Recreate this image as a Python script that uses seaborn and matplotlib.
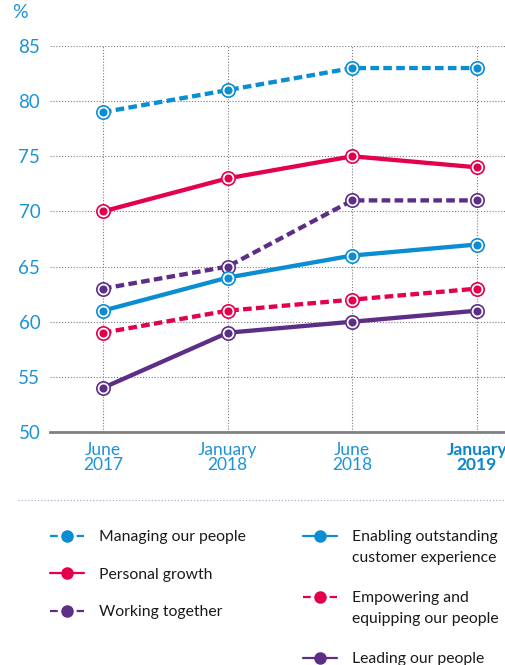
import numpy as np
import pandas as pd
import matplotlib
matplotlib.use("Agg")
import matplotlib.pyplot as plt
import seaborn as sns
from matplotlib.lines import Line2D

# ---------------- data ----------------
periods = ["June\n2017", "January\n2018", "June\n2018", "January\n2019"]
series_names = [
    "Managing our people",
    "Personal growth",
    "Working together",
    "Enabling outstanding customer experience",
    "Empowering and equipping our people",
    "Leading our people",
]
managing = [79, 81, 83, 83]
personal = [70, 73, 75, 74]
working = [63, 65, 71, 71]
enabling = [61, 64, 66, 67]
empowering = [59, 61, 62, 63]
leading = [54, 59, 60, 61]
y_ticks = [50, 55, 60, 65, 70, 75, 80, 85]

BLUE = "#0a8dd3"
RED = "#e3004f"
PURPLE = "#5c2e86"
LABEL_BLUE = "#1c93d6"

colors = {
    series_names[0]: BLUE,
    series_names[1]: RED,
    series_names[2]: PURPLE,
    series_names[3]: BLUE,
    series_names[4]: RED,
    series_names[5]: PURPLE,
}
is_dashed = {
    series_names[0]: True,
    series_names[1]: False,
    series_names[2]: True,
    series_names[3]: False,
    series_names[4]: True,
    series_names[5]: False,
}
values = [managing, personal, working, enabling, empowering, leading]

rows = []
for name, vals in zip(series_names, values):
    for i, v in enumerate(vals):
        rows.append({"series": name, "x": i, "value": v})
df = pd.DataFrame(rows)

# ---------------- style ----------------
sns.set_theme(style="white")
plt.rcParams["font.family"] = ["Lato", "DejaVu Sans"]

W, H = 506, 665
fig = plt.figure(figsize=(W / 100, H / 100), dpi=100)
ax = fig.add_axes([50 / W, 1 - 432 / H, 455 / W, 386 / H])

dash_spec = {n: ((2.0, 1.0) if is_dashed[n] else "") for n in series_names}
sns.lineplot(
    data=df, x="x", y="value", hue="series", style="series",
    hue_order=series_names, style_order=series_names,
    palette=colors, dashes=dash_spec, markers=False,
    linewidth=3.1, legend=False, ax=ax, sort=False, zorder=3,
)
for c_line in ax.lines:
    c_line.set_linewidth(3.1)
    c_line.set_solid_capstyle("butt")
    c_line.set_dash_capstyle("butt")

for name in series_names:
    sub = df[df["series"] == name]
    sns.scatterplot(x=sub["x"], y=sub["value"], s=92, color="white",
                    edgecolor=colors[name], linewidth=1.2, ax=ax, zorder=4,
                    legend=False)
    sns.scatterplot(x=sub["x"], y=sub["value"], s=34, color=colors[name],
                    linewidth=0, ax=ax, zorder=5, legend=False)

ax.set_xlim(-0.425, 3.225)
ax.set_ylim(50, 85)
ax.set_yticks(y_ticks)
ax.set_xticks(range(len(periods)))
ax.set_xticklabels(periods, linespacing=0.92)
ax.set_xlabel("")
ax.set_ylabel("")

ax.grid(True, color="#7a7a7a", linestyle=(0, (1, 1.6)), linewidth=0.8)
ax.set_axisbelow(True)
for s in ["top", "left", "right"]:
    ax.spines[s].set_visible(False)
ax.spines["bottom"].set_color("#808080")
ax.spines["bottom"].set_linewidth(2)
ax.spines["bottom"].set_zorder(6)

ax.tick_params(axis="y", length=0, pad=7, labelsize=13.5, labelcolor=LABEL_BLUE)
ax.tick_params(axis="x", length=0, pad=7, labelsize=12.5, labelcolor=LABEL_BLUE)
last = ax.get_xticklabels()[-1]
last.set_fontweight("bold")
last.set_color("#0a86cc")

fig.text(12 / W, 1 - 13 / H, "%", fontsize=14, color=LABEL_BLUE, va="center")

# separator
fig.add_artist(Line2D([18 / W, 1.0], [1 - 500 / H] * 2, transform=fig.transFigure,
                      color="#b7a8d0", linestyle=(0, (1, 1.6)), linewidth=0.9))

# ---------------- legend ----------------
def handle(name):
    return Line2D([], [], color=colors[name], lw=1.6,
                  linestyle=(0, (3.5, 2.5)) if is_dashed[name] else "-",
                  marker="o", markersize=8)

fs = 11.3
left_names = [series_names[0], series_names[1], series_names[2]]
right_names = [series_names[3], series_names[4], series_names[5]]
right_first = ["Enabling outstanding", "Empowering and", "Leading our people"]
right_second = ["customer experience", "equipping our people", None]

leg1 = fig.legend([handle(n) for n in left_names], left_names,
                  loc="upper left", bbox_to_anchor=(50 / W, 1 - 530 / H),
                  frameon=False, fontsize=fs, handlelength=2.15,
                  handletextpad=1.0, borderpad=0, borderaxespad=0,
                  labelspacing=1.5, labelcolor="#1a1a1a")
leg2 = fig.legend([handle(n) for n in right_names], right_first,
                  loc="upper left", bbox_to_anchor=(303 / W, 1 - 530 / H),
                  frameon=False, fontsize=fs, handlelength=2.15,
                  handletextpad=1.0, borderpad=0, borderaxespad=0,
                  labelspacing=3.0, labelcolor="#1a1a1a")

fig.canvas.draw()
renderer = fig.canvas.get_renderer()
inv = fig.transFigure.inverted()
for t, second in zip(leg2.get_texts(), right_second):
    if second is None:
        continue
    bb = t.get_window_extent(renderer)
    x0, y0 = inv.transform((bb.x0, bb.y0))
    fig.text(x0, y0 - 21 / H, second, fontsize=fs, color="#1a1a1a",
             va="bottom", ha="left")

fig.savefig("out.png", dpi=100)
